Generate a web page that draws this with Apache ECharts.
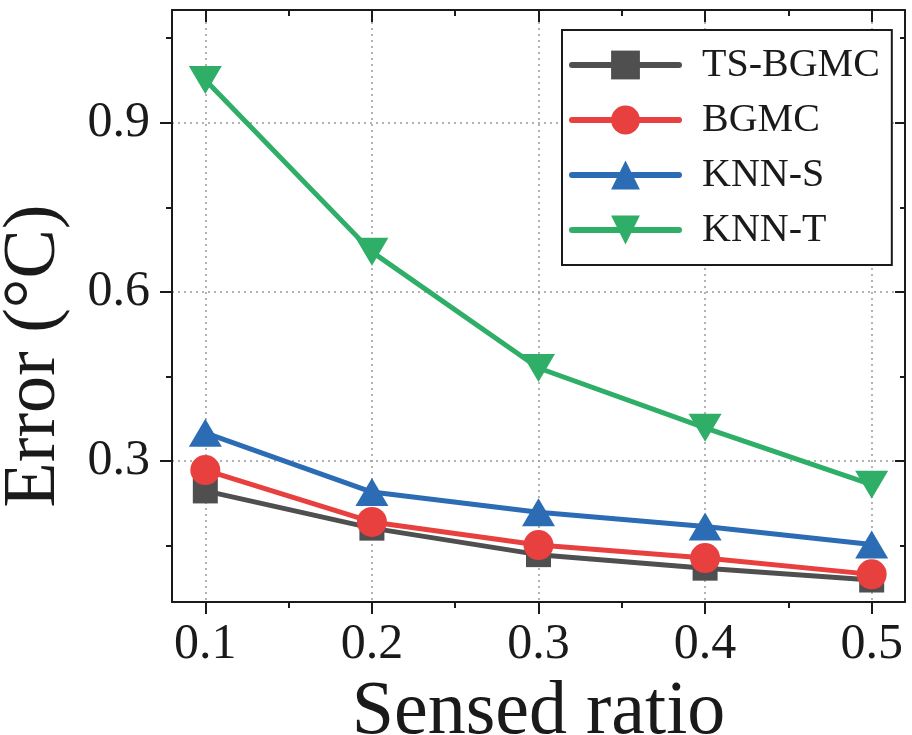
<!DOCTYPE html>
<html>
<head>
<meta charset="utf-8">
<script src="https://cdn.jsdelivr.net/npm/echarts@6/dist/echarts.min.js"></script>
<style>
  html, body { margin: 0; padding: 0; background: #fff; }
  #chart { width: 912px; height: 735px; }
</style>
</head>
<body>
<div id="chart"></div>
<script>
// Sensed ratio on the x axis
const ratios = [0.1, 0.2, 0.3, 0.4, 0.5];
// Error (°C) per method
const tsBgmc = [0.247, 0.181, 0.134, 0.110, 0.089];
const bgmc   = [0.284, 0.192, 0.151, 0.128, 0.099];
const knnS   = [0.350, 0.245, 0.209, 0.184, 0.152];
const knnT   = [0.976, 0.671, 0.465, 0.359, 0.258];
// Tick positions
const xMajor = [0.1, 0.2, 0.3, 0.4, 0.5];
const xMinor = [0.15, 0.25, 0.35, 0.45];
const yMajor = [0.3, 0.6, 0.9];
const yMinor = [0.15, 0.45, 0.75, 1.05];

const FONT = "'Liberation Serif', 'Times New Roman', serif";
const INK = '#1a1a1a';
const pairs = ys => ratios.map((x, i) => [x, ys[i]]);

function xAxisDef(pos, values, len, inside, isMain) {
  return {
    type: 'value', position: pos, min: 0.08, max: 0.52,
    axisLine: { show: isMain, lineStyle: { color: INK, width: 2 } },
    axisTick: { show: true, customValues: values, length: len, inside: inside,
                lineStyle: { color: INK, width: 2 } },
    axisLabel: { show: isMain && pos === 'bottom', customValues: values,
                 formatter: v => v.toFixed(1), fontFamily: FONT, fontSize: 50,
                 color: INK, margin: 18 },
    splitLine: { show: isMain && pos === 'bottom',
                 lineStyle: { color: '#9a9a9a', width: 1.5, type: [2, 4] } }
  };
}
function yAxisDef(pos, values, len, inside, isMain) {
  return {
    type: 'value', position: pos, min: 0.05, max: 1.1,
    axisLine: { show: isMain, lineStyle: { color: INK, width: 2 } },
    axisTick: { show: true, customValues: values, length: len, inside: inside,
                lineStyle: { color: INK, width: 2 } },
    axisLabel: { show: isMain && pos === 'left', customValues: values,
                 formatter: v => v.toFixed(1), fontFamily: FONT, fontSize: 50,
                 color: INK, margin: 22 },
    splitLine: { show: isMain && pos === 'left',
                 lineStyle: { color: '#9a9a9a', width: 1.5, type: [2, 4] } }
  };
}

const xAxes = [
  xAxisDef('bottom', xMajor, 12, false, true),
  xAxisDef('bottom', xMinor, 6, false, false),
  xAxisDef('top', xMajor, 12, true, true),
  xAxisDef('top', xMinor, 6, true, false)
];
xAxes[0].name = 'Sensed ratio';
xAxes[0].nameLocation = 'middle';
xAxes[0].nameGap = 64;
xAxes[0].nameTextStyle = { fontFamily: FONT, fontSize: 76, color: INK };

const yAxes = [
  yAxisDef('left', yMajor, 12, false, true),
  yAxisDef('left', yMinor, 6, false, false),
  yAxisDef('right', yMajor, 10, true, true),
  yAxisDef('right', yMinor, 5, true, false)
];
yAxes[0].name = 'Error (°C)';
yAxes[0].nameLocation = 'middle';
yAxes[0].nameGap = 100;
yAxes[0].nameTextStyle = { fontFamily: FONT, fontSize: 74, color: INK, padding: [0, 100, 0, 0] };

function lineSeries(name, ys, color, symbol, size, rotate) {
  return {
    name, type: 'line', data: pairs(ys),
    symbol, symbolSize: size, symbolRotate: rotate || 0,
    lineStyle: { color, width: 5 },
    itemStyle: { color },
    z: 3
  };
}

const chart = echarts.init(document.getElementById('chart'), null, { renderer: 'canvas' });
chart.setOption({
  animation: false,
  backgroundColor: '#fff',
  grid: { left: 172, right: 7, top: 10, bottom: 133, containLabel: false, outerBoundsMode: 'none' },
  xAxis: xAxes,
  yAxis: yAxes,
  legend: {
    orient: 'vertical', left: 562, top: 30,
    backgroundColor: '#fff', borderColor: INK, borderWidth: 2, borderRadius: 0,
    padding: [10, 12, 10, 7],
    itemWidth: 107, itemHeight: 36, itemGap: 5,
    lineStyle: { width: 6, cap: 'round' },
    textStyle: { fontFamily: FONT, fontSize: 40, color: INK, lineHeight: 50,
                 padding: [0, 0, 0, 18] },
    data: ['TS-BGMC', 'BGMC', 'KNN-S', 'KNN-T']
  },
  series: [
    lineSeries('TS-BGMC', tsBgmc, '#4f4f4f', 'rect', 25),
    lineSeries('BGMC', bgmc, '#e8403f', 'circle', 30),
    lineSeries('KNN-S', knnS, '#2b6cb5', 'triangle', [33, 28]),
    lineSeries('KNN-T', knnT, '#2fae68', 'triangle', [33, 28], 180)
  ]
});
</script>
</body>
</html>
